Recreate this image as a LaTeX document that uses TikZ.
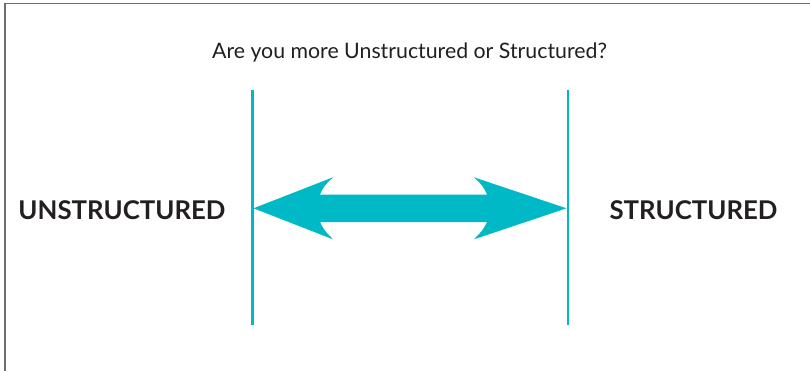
\documentclass[tikz,border=0pt]{standalone}
\usepackage{fontspec}
\setmainfont{Lato}
\definecolor{teal}{HTML}{00B9C6}
\definecolor{txt}{HTML}{231F20}
\definecolor{frame}{HTML}{6E6E6E}
\begin{document}
\begin{tikzpicture}[x=1pt,y=-1pt,
  divider/.style={draw=teal,line width=2.5pt},
  label/.style={font=\fontsize{25.8}{30}\selectfont\bfseries,text=txt,inner sep=0pt,anchor=center},
  question/.style={font=\fontsize{21.3}{25}\selectfont,text=txt,inner sep=0pt}]
\useasboundingbox (0,0) rectangle (810,370);
\fill[white] (0,0) rectangle (810,370);
\draw[frame,line width=1.2pt] (5,372) -- (5,3.5) -- (812,3.5);
\node[question] (q) at (409.5,52) {Are you more Unstructured or Structured?};
\coordinate (lt) at (252.5,90);
\coordinate (lb) at (252.5,325);
\coordinate (rt) at (568,90);
\coordinate (rb) at (568,325);
\draw[divider] (lt) -- (lb);
\draw[divider] (rt) -- (rb);
\node[label] (u) at (122,210) {UNSTRUCTURED};
\node[label] (s) at (693.5,210) {STRUCTURED};
\fill[teal] (253.5,208.3) -- (333,177.3) .. controls (324,186) .. (320,194.5)
  -- (487,194.5) .. controls (483,186) .. (474,177.3) -- (566.5,208.3)
  -- (474,239.3) .. controls (483,230) .. (487,222) -- (320,222)
  .. controls (324,230) .. (333,239.3) -- cycle;
\end{tikzpicture}
\end{document}
